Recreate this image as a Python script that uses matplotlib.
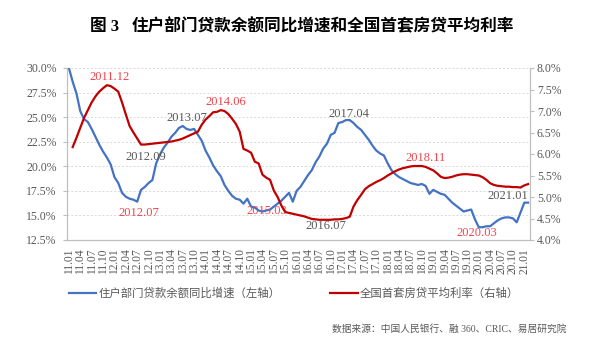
import matplotlib
matplotlib.use("Agg")
import matplotlib.pyplot as plt
import numpy as np

plt.rcParams['font.family'] = ['Liberation Serif', 'Noto Sans CJK SC', 'DejaVu Sans']

# monthly data, 2011.01 - 2021.02
loan_growth = [
    30.0, 28.6, 27.4, 25.6, 24.8, 24.5, 23.8, 23.0, 22.2, 21.5, 20.9, 20.2,   # 2011
    18.9, 18.3, 17.3, 16.9, 16.7, 16.6, 16.4, 17.6, 17.9, 18.3, 18.6, 20.3,   # 2012
    21.2, 21.9, 22.4, 23.0, 23.4, 23.9, 24.1, 23.8, 23.7, 23.8, 23.2, 22.6,   # 2013
    21.6, 20.9, 20.1, 19.5, 19.0, 18.1, 17.5, 17.0, 16.7, 16.6, 16.2, 16.7,   # 2014
    15.9, 15.8, 15.5, 15.4, 15.5, 15.6, 15.9, 16.2, 16.5, 16.9, 17.3, 16.4,   # 2015
    17.5, 17.9, 18.5, 19.1, 19.6, 20.4, 21.0, 21.8, 22.3, 23.2, 23.4, 24.4,   # 2016
    24.5, 24.7, 24.7, 24.4, 24.0, 23.7, 23.2, 22.7, 22.1, 21.6, 21.3, 21.1,   # 2017
    20.3, 19.6, 19.2, 18.9, 18.7, 18.5, 18.3, 18.2, 18.1, 18.2, 18.0, 17.2,   # 2018
    17.6, 17.4, 17.2, 17.1, 16.7, 16.3, 16.0, 15.7, 15.4, 15.5, 15.6, 14.6,   # 2019
    13.8, 13.8, 13.9, 13.9, 14.2, 14.5, 14.7, 14.8, 14.8, 14.7, 14.3, 15.3,   # 2020
    16.3, 16.3,                                                               # 2021
]
mortgage_rate = [
    np.nan, 6.16, 6.38, 6.61, 6.84, 7.02, 7.20, 7.34, 7.45, 7.53, 7.60, 7.58,
    7.52, 7.45, 7.20, 6.92, 6.65, 6.50, 6.36, 6.22, 6.22, 6.23, 6.24, 6.25,
    6.26, 6.27, 6.28, 6.29, 6.31, 6.33, 6.36, 6.40, 6.44, 6.48, 6.52, 6.68,
    6.80, 6.88, 6.97, 6.98, 7.02, 7.00, 6.93, 6.82, 6.70, 6.52, 6.12, 6.08,
    6.03, 5.82, 5.78, 5.52, 5.45, 5.40, 5.15, 5.00, 4.80, 4.65, 4.63, 4.61,
    4.59, 4.57, 4.55, 4.52, 4.49, 4.48, 4.47, 4.47, 4.47, 4.47, 4.48, 4.48,
    4.49, 4.51, 4.54, 4.78, 4.93, 5.05, 5.18, 5.25, 5.30, 5.35, 5.39, 5.44,
    5.50, 5.55, 5.60, 5.64, 5.67, 5.69, 5.71, 5.72, 5.72, 5.72, 5.70, 5.66,
    5.62, 5.55, 5.47, 5.44, 5.45, 5.47, 5.50, 5.52, 5.53, 5.53, 5.52, 5.51,
    5.50, 5.46, 5.40, 5.32, 5.28, 5.26, 5.25, 5.24, 5.24, 5.23, 5.23, 5.22,
    5.27, 5.30,
]
months = ["%02d.%02d" % (11 + i // 12, i % 12 + 1) for i in range(len(loan_growth))]

# annotations: (text, month index, left-axis value, colour)
notes = [
    ("2011.12", 10.8, 29.1, 'red'),
    ("2012.09", 20.3, 20.95, 'gray'),
    ("2012.07", 18.5, 15.25, 'red'),
    ("2013.07", 31.1, 24.9, 'gray'),
    ("2014.06", 41.4, 26.5, 'red'),
    ("2015.03", 52.2, 15.45, 'red'),
    ("2016.07", 67.6, 13.9, 'gray'),
    ("2017.04", 73.7, 25.3, 'gray'),
    ("2018.11", 94.0, 20.85, 'red'),
    ("2020.03", 107.4, 13.2, 'red'),
    ("2021.01", 115.7, 17.0, 'gray'),
]

blue = '#4472c4'
dark_red = '#c00000'
txt_gray = '#595959'
txt_red = '#f0444a'
axis_gray = '#bfbfbf'

fig = plt.figure(figsize=(6, 3.52), dpi=100)
ax = fig.add_axes([67 / 600, 1 - 240 / 352, 463 / 600, 172 / 352])
ax2 = ax.twinx()

x = np.arange(len(loan_growth))
ax.plot(x, loan_growth, color=blue, lw=1.6, label="住户部门贷款余额同比增速（左轴）")
ax2.plot(x, mortgage_rate, color=dark_red, lw=1.6, label="全国首套房贷平均利率（右轴）")

ax.set_xlim(-0.5, len(loan_growth) - 0.5)
ax.set_ylim(12.5, 30.0)
ax2.set_ylim(4.0, 8.0)

ax.set_yticks(np.arange(12.5, 30.01, 2.5))
ax.set_yticklabels(["%.1f%%" % v for v in np.arange(12.5, 30.01, 2.5)])
ax2.set_yticks(np.arange(4.0, 8.01, 0.5))
ax2.set_yticklabels(["%.1f%%" % v for v in np.arange(4.0, 8.01, 0.5)])
ax.set_xticks(x[::3])
ax.set_xticklabels(months[::3], rotation=90)

ax.grid(axis='y', color='#d9d9d9', linestyle=(0, (2, 2)), lw=0.7)
ax.set_axisbelow(True)

for a in (ax, ax2):
    a.spines['top'].set_visible(False)
    for s in ('left', 'right', 'bottom'):
        a.spines[s].set_color(axis_gray)
        a.spines[s].set_linewidth(0.8)
ax.tick_params(axis='y', colors=txt_gray, labelsize=8.5, length=3, width=0.8, color=axis_gray, pad=4.5)
ax2.tick_params(axis='y', colors=txt_gray, labelsize=8.5, length=3, width=0.8, color=axis_gray, pad=2)
ax.tick_params(axis='x', colors=txt_gray, labelsize=8.3, length=0, pad=6)

for t, mx, vy, c in notes:
    ax.text(mx, vy, t, ha='center', va='center', fontsize=9,
            color=txt_red if c == 'red' else txt_gray, zorder=5)

# title
fig.text(90 / 600, 1 - 27 / 352, "图 3", fontsize=12, fontweight='bold', ha='left', va='center')
fig.text(132 / 600, 1 - 27 / 352, "住户部门贷款余额同比增速和全国首套房贷平均利率",
         fontsize=12, fontweight='bold', ha='left', va='center')

h1, l1 = ax.get_legend_handles_labels()
h2, l2 = ax2.get_legend_handles_labels()
fig.legend(h1 + h2, l1 + l2, loc='center', bbox_to_anchor=(294 / 600, 1 - 293 / 352),
           ncol=2, frameon=False, fontsize=8.2, handlelength=2.4, handletextpad=0.2,
           columnspacing=4.4, labelcolor=txt_gray)

fig.text(567 / 600, 1 - 329 / 352, "数据来源：中国人民银行、融 360、CRIC、易居研究院",
         fontsize=7, color=txt_gray, ha='right', va='center')

fig.savefig("out.png", dpi=100)
